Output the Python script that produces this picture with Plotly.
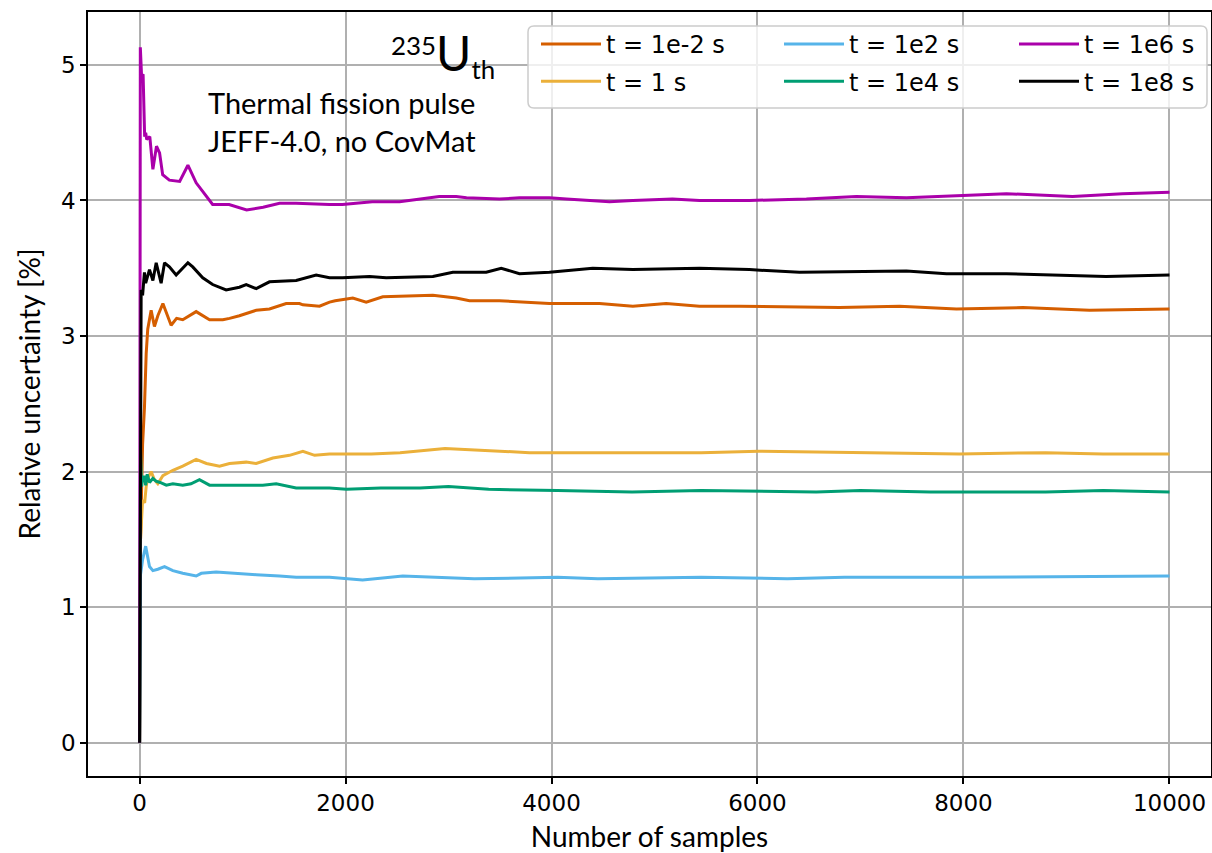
import plotly.graph_objects as go

# ---------------- data ----------------
x_1em2 = [1, 10, 30, 48, 65, 80, 113, 145, 178, 227, 307, 360, 420, 550, 680, 809, 874, 970, 1133, 1262,
          1424, 1553, 1586, 1748, 1845, 1900, 2071, 2201, 2362, 2848, 3075, 3204, 3495, 3980, 4466, 4790,
          5113, 5437, 5825, 6796, 7379, 7932, 8576, 9223, 10000]
y_1em2 = [0, 1.5, 2.2, 2.47, 2.87, 3.05, 3.19, 3.07, 3.15, 3.24, 3.08, 3.13, 3.12, 3.18, 3.12, 3.12, 3.13,
          3.15, 3.19, 3.20, 3.24, 3.24, 3.23, 3.22, 3.25, 3.26, 3.28, 3.25, 3.29, 3.30, 3.28, 3.26, 3.26,
          3.24, 3.24, 3.22, 3.24, 3.22, 3.22, 3.21, 3.22, 3.20, 3.21, 3.19, 3.20]

x_1 = [1, 10, 30, 50, 65, 80, 113, 145, 178, 227, 275, 324, 420, 550, 650, 777, 874, 1036, 1133, 1295,
       1456, 1586, 1700, 1845, 2250, 2530, 2966, 3250, 3786, 4566, 5454, 6011, 7125, 7960, 8797, 9356, 10000]
y_1 = [0, 1.5, 1.79, 1.77, 1.89, 1.95, 2.00, 1.94, 1.91, 1.97, 1.99, 2.01, 2.04, 2.09, 2.06, 2.04, 2.06,
       2.07, 2.06, 2.10, 2.12, 2.15, 2.12, 2.13, 2.13, 2.14, 2.17, 2.16, 2.14, 2.14, 2.14, 2.15, 2.14,
       2.13, 2.14, 2.13, 2.13]

x_1e2 = [1, 10, 30, 60, 97, 130, 178, 243, 324, 420, 550, 600, 744, 900, 1133, 1360, 1521, 1845, 2009,
         2166, 2556, 3250, 4058, 4451, 5454, 6290, 6845, 8000, 10000]
y_1e2 = [0, 1.24, 1.35, 1.45, 1.30, 1.27, 1.28, 1.30, 1.27, 1.25, 1.23, 1.25, 1.26, 1.25, 1.24, 1.23,
         1.22, 1.22, 1.21, 1.20, 1.23, 1.21, 1.22, 1.21, 1.22, 1.21, 1.22, 1.22, 1.23]

x_1e4 = [1, 10, 20, 30, 48, 60, 75, 97, 130, 160, 200, 260, 324, 420, 500, 582, 680, 874, 1197, 1327,
         1521, 1845, 2009, 2344, 2723, 3000, 3390, 4058, 4782, 5454, 6570, 7000, 7680, 8797, 9356, 10000]
y_1e4 = [0, 2.16, 1.89, 1.96, 1.96, 1.90, 1.98, 1.92, 1.95, 1.93, 1.92, 1.90, 1.91, 1.90, 1.91, 1.94,
         1.90, 1.90, 1.90, 1.91, 1.88, 1.88, 1.87, 1.88, 1.88, 1.89, 1.87, 1.86, 1.85, 1.86, 1.85, 1.86,
         1.85, 1.85, 1.86, 1.85]

x_1e6 = [1, 8, 20, 35, 50, 60, 70, 100, 130, 165, 195, 225, 290, 390, 470, 550, 710, 870, 1040, 1200,
         1360, 1520, 1845, 1970, 2260, 2525, 2910, 3075, 3175, 3495, 3690, 3980, 4145, 4563, 4790, 5175,
         5437, 5922, 6475, 6960, 7446, 7767, 8417, 9058, 9544, 10000]
y_1e6 = [0, 5.13, 4.92, 4.93, 4.47, 4.50, 4.45, 4.47, 4.23, 4.40, 4.35, 4.19, 4.15, 4.14, 4.26, 4.13,
         3.97, 3.97, 3.93, 3.95, 3.98, 3.98, 3.97, 3.97, 3.99, 3.99, 4.03, 4.03, 4.02, 4.01, 4.02, 4.02,
         4.01, 3.99, 4.00, 4.01, 4.00, 4.00, 4.01, 4.03, 4.02, 4.03, 4.05, 4.03, 4.05, 4.06]

x_1e8 = [1, 16, 30, 48, 60, 80, 97, 130, 162, 210, 243, 290, 356, 470, 517, 614, 710, 841, 970, 1036,
         1133, 1262, 1521, 1715, 1845, 1971, 2233, 2395, 2848, 3042, 3366, 3512, 3689, 3980, 4400, 4790,
         5437, 5922, 6408, 7446, 7835, 8417, 8864, 9385, 10000]
y_1e8 = [0, 3.34, 3.30, 3.47, 3.39, 3.45, 3.49, 3.41, 3.54, 3.39, 3.54, 3.51, 3.45, 3.54, 3.51, 3.43,
         3.38, 3.34, 3.36, 3.38, 3.35, 3.40, 3.41, 3.45, 3.43, 3.43, 3.44, 3.43, 3.44, 3.47, 3.47, 3.50,
         3.46, 3.47, 3.50, 3.49, 3.50, 3.49, 3.47, 3.48, 3.46, 3.46, 3.45, 3.44, 3.45]

labels = ["t = 1e-2 s", "t = 1 s", "t = 1e2 s", "t = 1e4 s", "t = 1e6 s", "t = 1e8 s"]
xs = [x_1em2, x_1, x_1e2, x_1e4, x_1e6, x_1e8]
ys = [y_1em2, y_1, y_1e2, y_1e4, y_1e6, y_1e8]
colors = ["#D55E00", "#EBB03A", "#56B4E9", "#009E73", "#AA00AA", "#000000"]
legend_ids = ["legend", "legend", "legend2", "legend2", "legend3", "legend3"]

x_ticks = [0, 2000, 4000, 6000, 8000, 10000]
y_ticks = [0, 1, 2, 3, 4, 5]

# ---------------- figure ----------------
W, H = 1212, 853
ML, MR, MT, MB = 88, 1, 12, 77
PW, PH = W - ML - MR, H - MT - MB


def px2paper_x(px):
    return (px - ML) / PW


def px2paper_y(py):
    return (H - MB - py) / PH


fig = go.Figure()
for i in range(6):
    fig.add_trace(go.Scatter(
        x=xs[i], y=ys[i], mode="lines", name=labels[i],
        line=dict(color=colors[i], width=3),
        legend=legend_ids[i], legendgroup=labels[i],
    ))

axis_common = dict(
    showgrid=True, gridcolor="#b0b0b0", gridwidth=1.5,
    showline=True, linecolor="black", linewidth=1.5, mirror=True,
    ticks="outside", ticklen=6, tickwidth=1.5, tickcolor="black",
    zeroline=False, automargin=False,
    tickfont=dict(family="DejaVu Sans", size=23, color="black"),
)

fig.update_layout(
    width=W, height=H, autosize=False,
    margin=dict(l=ML, r=MR, t=MT, b=MB, autoexpand=False),
    plot_bgcolor="white", paper_bgcolor="white",
    xaxis=dict(range=[-500, 10403], tickvals=x_ticks, ticktext=[str(v) for v in x_ticks],
               title=dict(text="Number of samples", font=dict(family="Lato", size=28, color="black"),
                          standoff=12),
               **axis_common),
    yaxis=dict(range=[-0.245, 5.39], tickvals=y_ticks, ticktext=[str(v) for v in y_ticks],
               title=dict(text="Relative uncertainty [%]", font=dict(family="Lato", size=28, color="black"),
                          standoff=12),
               **axis_common),
    showlegend=True,
)

leg_common = dict(
    orientation="v", bgcolor="rgba(0,0,0,0)", borderwidth=0,
    font=dict(family="DejaVu Sans", size=24, color="black"),
    traceorder="grouped", tracegroupgap=3, itemwidth=60,
    xanchor="left", yanchor="top", xref="paper", yref="paper",
)
fig.update_layout(
    legend=dict(x=px2paper_x(536), y=px2paper_y(22), **leg_common),
    legend2=dict(x=px2paper_x(779), y=px2paper_y(22), **leg_common),
    legend3=dict(x=px2paper_x(1014), y=px2paper_y(22), **leg_common),
)

# legend frame (rounded rectangle)
x0, x1 = px2paper_x(528), px2paper_x(1207)
y0, y1 = px2paper_y(108), px2paper_y(26)
rx, ry = 6 / PW, 6 / PH
path = (f"M {x0+rx},{y0} L {x1-rx},{y0} Q {x1},{y0} {x1},{y0+ry} L {x1},{y1-ry} Q {x1},{y1} {x1-rx},{y1} "
        f"L {x0+rx},{y1} Q {x0},{y1} {x0},{y1-ry} L {x0},{y0+ry} Q {x0},{y0} {x0+rx},{y0} Z")
fig.add_shape(type="path", path=path, xref="paper", yref="paper",
              fillcolor="rgba(255,255,255,0.8)", line=dict(color="#cccccc", width=1.5), layer="above")

fig.add_annotation(
    xref="paper", yref="paper", x=px2paper_x(497), y=px2paper_y(55),
    xanchor="right", yanchor="middle", showarrow=False,
    text="<sup>235</sup><span style='font-size:48px'>U</span><sub>th</sub>",
    font=dict(family="Lato", size=37, color="black"),
)
fig.add_annotation(
    xref="paper", yref="paper", x=px2paper_x(206), y=px2paper_y(122),
    xanchor="left", yanchor="middle", showarrow=False, align="left",
    text="Thermal fission pulse<br>JEFF-4.0, no CovMat",
    font=dict(family="Lato", size=29, color="black"),
)

fig.write_html("out.html", post_script="document.body.style.margin='0px';",
               config={"displayModeBar": False})
